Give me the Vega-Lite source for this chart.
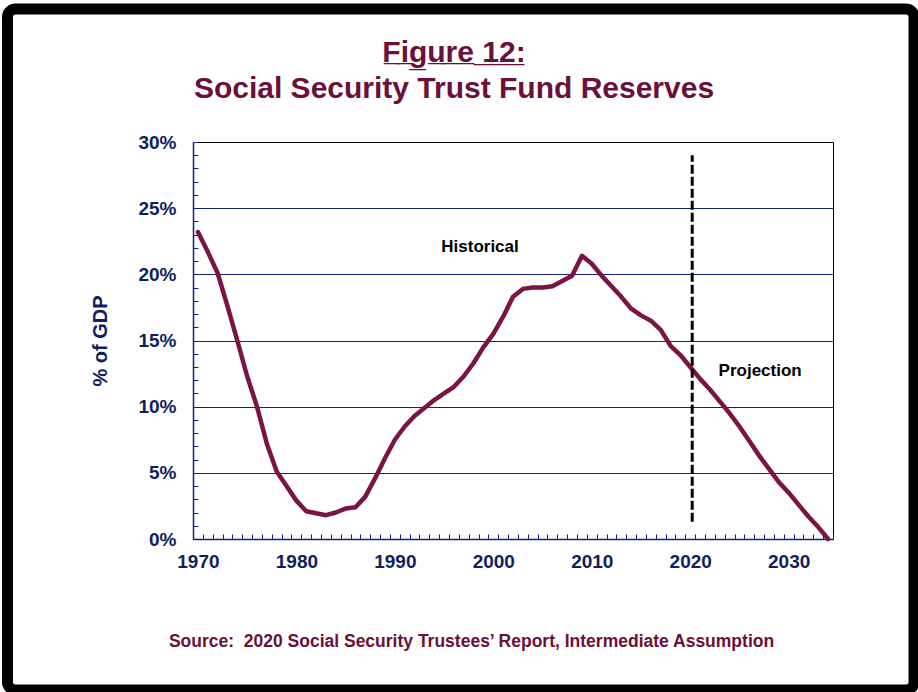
{
  "$schema": "https://vega.github.io/schema/vega-lite/v6.json",
  "autosize": {"type": "none"},
  "width": 640,
  "height": 397,
  "padding": {"left": 193, "top": 142, "right": 85, "bottom": 153},
  "background": "white",
  "title": {
    "text": ["F\u0332i\u0332g\u0332u\u0332r\u0332e\u0332 \u03321\u03322\u0332:", "Social Security Trust Fund Reserves"],
    "font": "Liberation Sans",
    "fontSize": 30,
    "fontWeight": "bold",
    "color": "#6b0f3b",
    "lineHeight": 36,
    "anchor": "middle",
    "frame": "group",
    "dx": -59,
    "offset": -100
  },
  "datasets": {
    "reserves": [
      {"year": 1970, "pct": 23.2}, {"year": 1971, "pct": 21.7}, {"year": 1972, "pct": 20.1},
      {"year": 1973, "pct": 17.6}, {"year": 1974, "pct": 15.0}, {"year": 1975, "pct": 12.3},
      {"year": 1976, "pct": 10.0}, {"year": 1977, "pct": 7.2}, {"year": 1978, "pct": 5.1},
      {"year": 1979, "pct": 4.0}, {"year": 1980, "pct": 2.9}, {"year": 1981, "pct": 2.1},
      {"year": 1982, "pct": 1.95}, {"year": 1983, "pct": 1.8}, {"year": 1984, "pct": 2.0},
      {"year": 1985, "pct": 2.3}, {"year": 1986, "pct": 2.4}, {"year": 1987, "pct": 3.2},
      {"year": 1988, "pct": 4.6}, {"year": 1989, "pct": 6.1}, {"year": 1990, "pct": 7.5},
      {"year": 1991, "pct": 8.5}, {"year": 1992, "pct": 9.3}, {"year": 1993, "pct": 9.9},
      {"year": 1994, "pct": 10.5}, {"year": 1995, "pct": 11.0}, {"year": 1996, "pct": 11.5},
      {"year": 1997, "pct": 12.3}, {"year": 1998, "pct": 13.3}, {"year": 1999, "pct": 14.5},
      {"year": 2000, "pct": 15.5}, {"year": 2001, "pct": 16.8}, {"year": 2002, "pct": 18.3},
      {"year": 2003, "pct": 18.9}, {"year": 2004, "pct": 19.0}, {"year": 2005, "pct": 19.0},
      {"year": 2006, "pct": 19.1}, {"year": 2007, "pct": 19.5}, {"year": 2008, "pct": 19.9},
      {"year": 2009, "pct": 21.4}, {"year": 2010, "pct": 20.8}, {"year": 2011, "pct": 19.9},
      {"year": 2012, "pct": 19.1}, {"year": 2013, "pct": 18.3}, {"year": 2014, "pct": 17.4},
      {"year": 2015, "pct": 16.9}, {"year": 2016, "pct": 16.5}, {"year": 2017, "pct": 15.8},
      {"year": 2018, "pct": 14.6}, {"year": 2019, "pct": 13.9}, {"year": 2020, "pct": 13.0},
      {"year": 2021, "pct": 12.1}, {"year": 2022, "pct": 11.3}, {"year": 2023, "pct": 10.4},
      {"year": 2024, "pct": 9.5}, {"year": 2025, "pct": 8.5}, {"year": 2026, "pct": 7.4},
      {"year": 2027, "pct": 6.3}, {"year": 2028, "pct": 5.3}, {"year": 2029, "pct": 4.3},
      {"year": 2030, "pct": 3.5}, {"year": 2031, "pct": 2.6}, {"year": 2032, "pct": 1.7},
      {"year": 2033, "pct": 0.9}, {"year": 2034, "pct": 0.0}
    ],
    "notes": [
      {"year": 1998.65, "pct": 22.1, "label": "Historical"},
      {"year": 2027.1, "pct": 12.7, "label": "Projection"}
    ]
  },
  "config": {
    "view": {"stroke": "black", "strokeWidth": 1},
    "font": "Liberation Sans"
  },
  "layer": [
    {
      "data": {"values": [{}]},
      "mark": {"type": "rect", "filled": false, "color": "black", "strokeWidth": 11, "cornerRadius": 8},
      "encoding": {
        "x": {"datum": 1950.66, "type": "quantitative", "scale": {"domain": [1969.5, 2034.5], "nice": false, "zero": false}},
        "x2": {"datum": 2042.73},
        "y": {"datum": -11.41, "type": "quantitative", "scale": {"domain": [0, 30], "nice": false}},
        "y2": {"datum": 40.05}
      }
    },
    {
      "data": {"name": "reserves"},
      "mark": {"type": "line", "color": "#7a1444", "strokeWidth": 4.5, "strokeJoin": "round", "strokeCap": "round"},
      "encoding": {
        "x": {
          "field": "year",
          "type": "quantitative",
          "scale": {"domain": [1969.5, 2034.5], "nice": false, "zero": false},
          "axis": {
            "values": [1969.5, 1970, 1970.5, 1971.5, 1972.5, 1973.5, 1974.5, 1975.5, 1976.5, 1977.5, 1978.5, 1979.5, 1980, 1980.5, 1981.5, 1982.5, 1983.5, 1984.5, 1985.5, 1986.5, 1987.5, 1988.5, 1989.5, 1990, 1990.5, 1991.5, 1992.5, 1993.5, 1994.5, 1995.5, 1996.5, 1997.5, 1998.5, 1999.5, 2000, 2000.5, 2001.5, 2002.5, 2003.5, 2004.5, 2005.5, 2006.5, 2007.5, 2008.5, 2009.5, 2010, 2010.5, 2011.5, 2012.5, 2013.5, 2014.5, 2015.5, 2016.5, 2017.5, 2018.5, 2019.5, 2020, 2020.5, 2021.5, 2022.5, 2023.5, 2024.5, 2025.5, 2026.5, 2027.5, 2028.5, 2029.5, 2030, 2030.5, 2031.5, 2032.5, 2033.5, 2034.5],
            "tickCount": 500,
            "labelExpr": "datum.value % 10 === 0 ? '' + datum.value : ''",
            "labelOverlap": false,
            "labelFont": "Liberation Sans",
            "labelFontSize": 19,
            "labelFontWeight": "bold",
            "labelColor": "#0f1f5f",
            "labelPadding": 18,
            "labelFlush": false,
            "tickSize": -5,
            "tickColor": "#13237a",
            "tickWidth": 1,
            "tickOpacity": {"condition": {"test": "datum.value % 1 !== 0", "value": 1}, "value": 0},
            "domainColor": "#13237a",
            "domainWidth": 1.5,
            "grid": false,
            "title": "Source:\u00a0 2020 Social Security Trustees\u2019 Report, Intermediate Assumption",
            "titleFont": "Liberation Sans",
            "titleFontSize": 17.5,
            "titleFontWeight": "bold",
            "titleColor": "#6b0f3b",
            "titleX": 278,
            "titleY": 102,
            "titleBaseline": "middle",
            "titleAlign": "center"
          }
        },
        "y": {
          "field": "pct",
          "type": "quantitative",
          "scale": {"domain": [0, 30], "nice": false},
          "axis": {
            "values": [0, 1, 2, 3, 4, 5, 6, 7, 8, 9, 10, 11, 12, 13, 14, 15, 16, 17, 18, 19, 20, 21, 22, 23, 24, 25, 26, 27, 28, 29, 30],
            "tickCount": 500,
            "labelExpr": "datum.value % 5 === 0 ? datum.value + '%' : ''",
            "labelOverlap": false,
            "labelFont": "Liberation Sans",
            "labelFontSize": 19,
            "labelFontWeight": "bold",
            "labelColor": "#0f1f5f",
            "labelPadding": 22,
            "labelFlush": false,
            "tickSize": -5,
            "tickColor": "#13237a",
            "tickWidth": 1,
            "domainColor": "#13237a",
            "domainWidth": 1.5,
            "grid": true,
            "gridColor": "#13237a",
            "gridWidth": 1.2,
            "gridOpacity": {"condition": {"test": "datum.value % 5 === 0 && datum.value > 0 && datum.value < 30", "value": 1}, "value": 0},
            "title": "% of GDP",
            "titleFont": "Liberation Sans",
            "titleFontSize": 20,
            "titleFontWeight": "bold",
            "titleColor": "#0f1f5f",
            "titlePadding": 27
          }
        }
      }
    },
    {
      "data": {"values": [{}]},
      "mark": {"type": "rule", "color": "black", "strokeWidth": 3, "strokeDash": [9, 3]},
      "encoding": {
        "x": {"datum": 2020.2, "type": "quantitative"},
        "y": {"datum": 1.3, "type": "quantitative"},
        "y2": {"datum": 29}
      }
    },
    {
      "data": {"name": "notes"},
      "mark": {"type": "text", "font": "Liberation Sans", "fontSize": 17, "fontWeight": "bold", "color": "black", "align": "center", "baseline": "middle"},
      "encoding": {
        "x": {"field": "year", "type": "quantitative"},
        "y": {"field": "pct", "type": "quantitative"},
        "text": {"field": "label"}
      }
    }
  ]
}
